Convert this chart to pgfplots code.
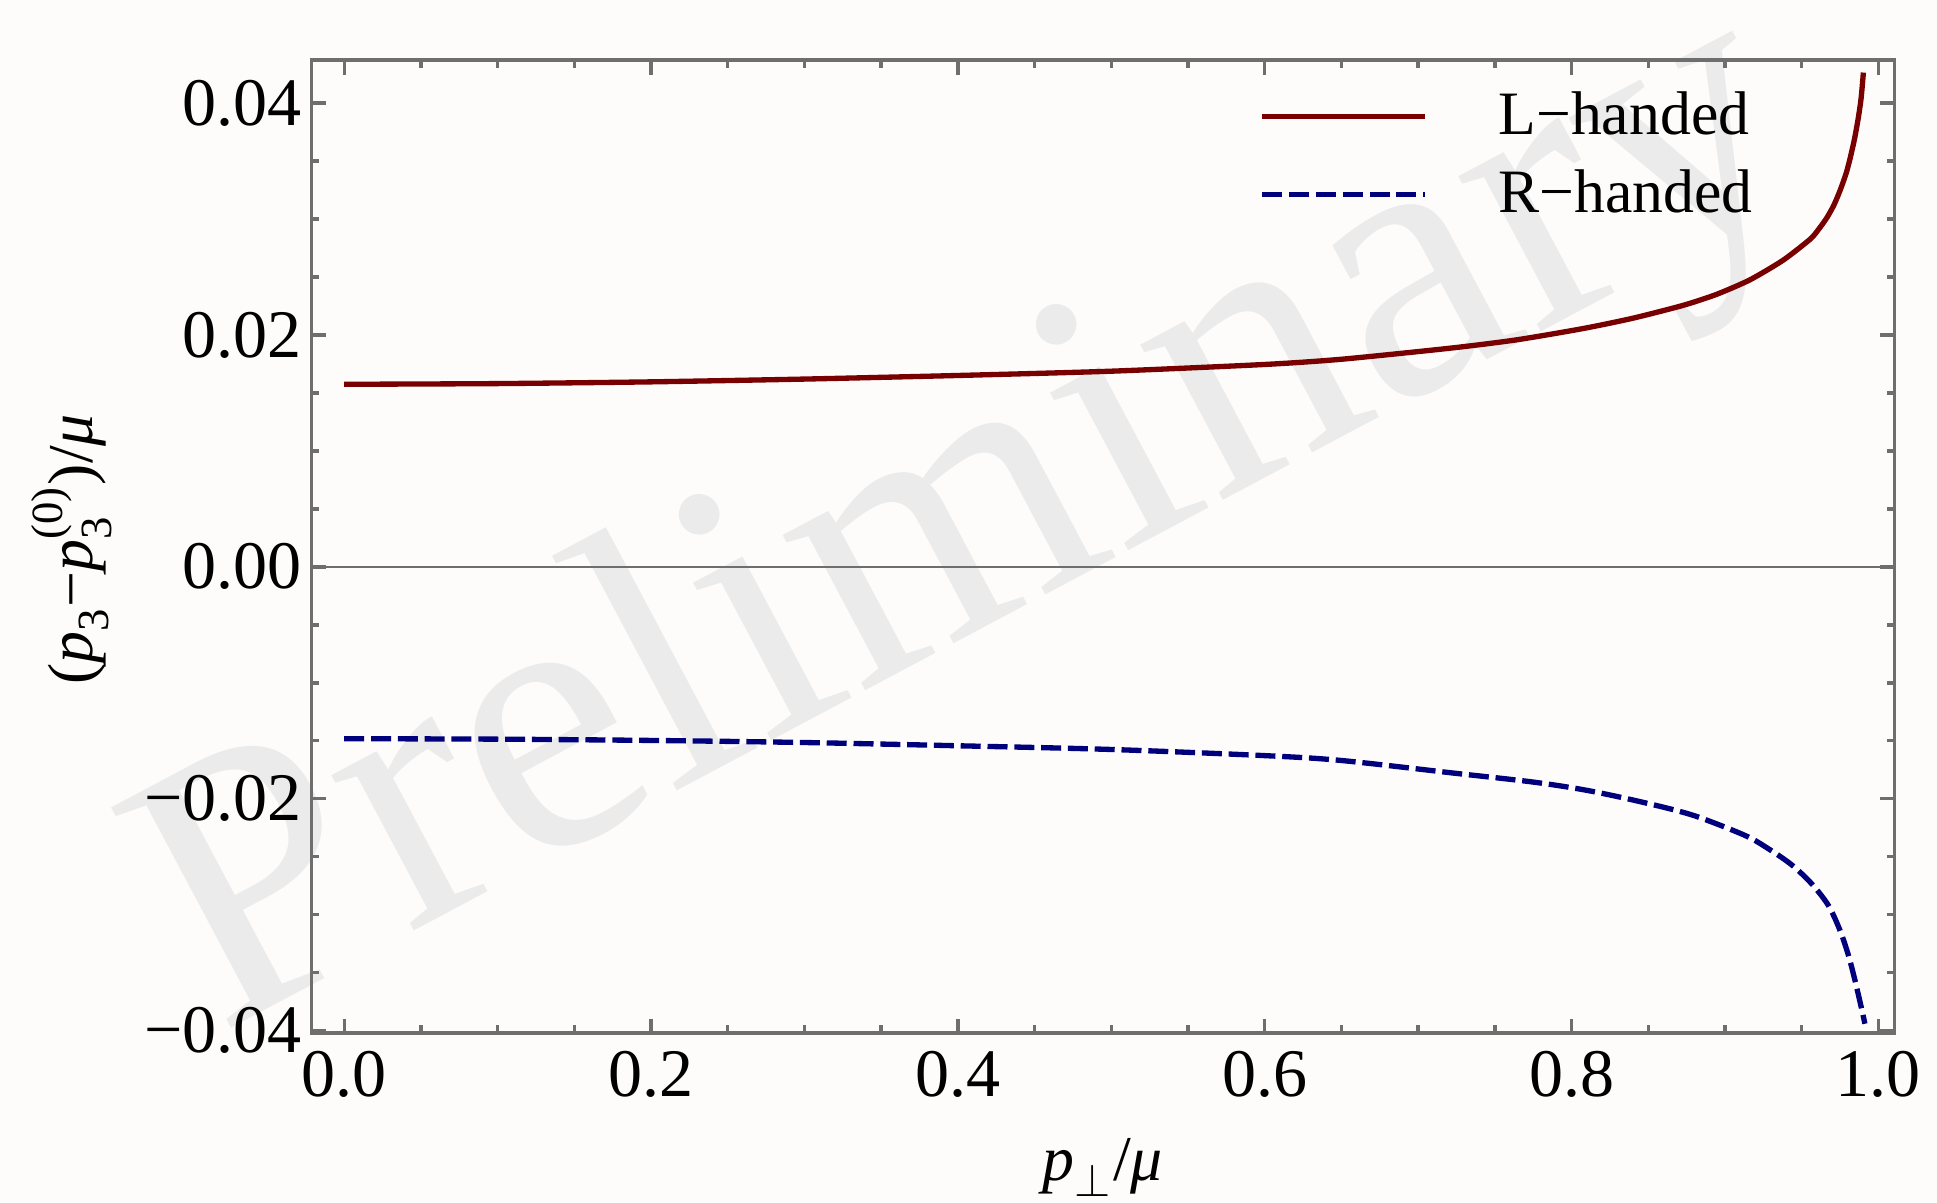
\documentclass[border=0pt]{standalone}
\usepackage{amsmath}
\usepackage{fontspec}
\setmainfont{Liberation Serif}
\usepackage{pgfplots}
\pgfplotsset{compat=1.18}
\definecolor{bgc}{RGB}{254,252,250}
\definecolor{wm}{RGB}{235,235,235}
\definecolor{lred}{RGB}{120,0,0}
\definecolor{rblue}{RGB}{0,0,125}
\definecolor{framec}{RGB}{110,110,110}
\begin{document}
\begin{tikzpicture}
\fill[bgc] (-2.571,-1.396) rectangle (13.429,8.533);
\node[text=wm, rotate=28, font=\fontsize{90}{95}\selectfont, inner sep=0pt] at (5.48,4.163) {Preliminary};
\begin{axis}[
  scale only axis, width=13.078cm, height=8.037cm,
  xmin=-0.0215, xmax=1.0105, ymin=-0.0402, ymax=0.0437,
  axis line style={framec, line width=0.8pt},
  tick style={framec, line width=0.8pt},
  major tick length=0.12cm, minor tick length=0.065cm,
  tick align=inside, xtick pos=both, ytick pos=both,
  xtick={0,0.2,0.4,0.6,0.8,1}, xticklabels={0.0,0.2,0.4,0.6,0.8,1.0},
  ytick={-0.04,-0.02,0,0.02,0.04}, yticklabels={−0.04,−0.02,0.00,0.02,0.04},
  minor x tick num=3, minor y tick num=3,
  scaled y ticks=false,
  tick label style={font=\fontsize{16}{19}\selectfont, inner sep=0pt},
  xticklabel style={yshift=-4pt},
  yticklabel style={xshift=-2pt},
  xlabel={$\textit{p}_{\perp}\text{/}\textit{μ}$},
  ylabel={$\text{(}\textit{p}_{\text{3}}\text{−}\textit{p}_{\text{3}}^{\text{(0)}}\text{)/}\textit{μ}$},
  label style={font=\fontsize{15}{18}\selectfont},
  xlabel style={at={(axis description cs:0.5,-0.138)}, anchor=center},
  ylabel style={at={(axis description cs:-0.1515,0.497)}, anchor=center},
  legend style={draw=none, fill=none, at={(rel axis cs:0.599,1)}, anchor=north west, yshift=-0.262cm,
    inner sep=0pt, outer sep=0pt, row sep=0.24cm, column sep=0pt,
    font=\fontsize{14.5}{17}\selectfont, nodes={inner sep=0pt, outer sep=0pt}},
  legend cell align=left,
  legend image code/.code={\draw[#1] (0cm,0cm) -- (1.347cm,0cm); \path (1.93cm,0cm);},
]
\addplot[forget plot, color=framec, line width=0.6pt] coordinates {(-0.0215,0) (1.0105,0)};
\addplot[lred, line width=1.25pt, smooth, tension=0.4] coordinates {
(0.00,0.01574) (0.10,0.01580) (0.20,0.01595) (0.30,0.01619) (0.40,0.01650)
(0.50,0.01687) (0.60,0.01745) (0.65,0.01790) (0.7206,0.01885) (0.764,0.01957)
(0.8076,0.02055) (0.840,0.02144) (0.8728,0.02255) (0.8946,0.02350) (0.9163,0.02475)
(0.938,0.02645) (0.9555,0.02825) (0.961,0.02910) (0.9664,0.03010) (0.971,0.03120)
(0.975,0.03245) (0.979,0.03395) (0.9816,0.03525) (0.9845,0.03695) (0.987,0.03880)
(0.9888,0.04050) (0.9902,0.04262)
};
\addlegendentry{L−handed}
\addplot[rblue, line width=1.25pt, dash pattern=on 4.7pt off 1.6pt, smooth, tension=0.5] coordinates {
(0.00,-0.01482) (0.10,-0.01486) (0.20,-0.01497) (0.30,-0.01515) (0.40,-0.01543)
(0.50,-0.01575) (0.60,-0.01628) (0.65,-0.01670) (0.7227,-0.01778) (0.775,-0.01856)
(0.8098,-0.01927) (0.8457,-0.02028) (0.8793,-0.02143) (0.913,-0.02316) (0.9283,-0.02431)
(0.9435,-0.02570) (0.9565,-0.02733) (0.9674,-0.02920) (0.975,-0.03136) (0.9805,-0.03352)
(0.9848,-0.03570) (0.9892,-0.03820) (0.9912,-0.03940)
};
\addlegendentry{R−handed}
\end{axis}
\pgfresetboundingbox
\useasboundingbox (-2.571,-1.396) rectangle (13.429,8.533);
\end{tikzpicture}
\end{document}
